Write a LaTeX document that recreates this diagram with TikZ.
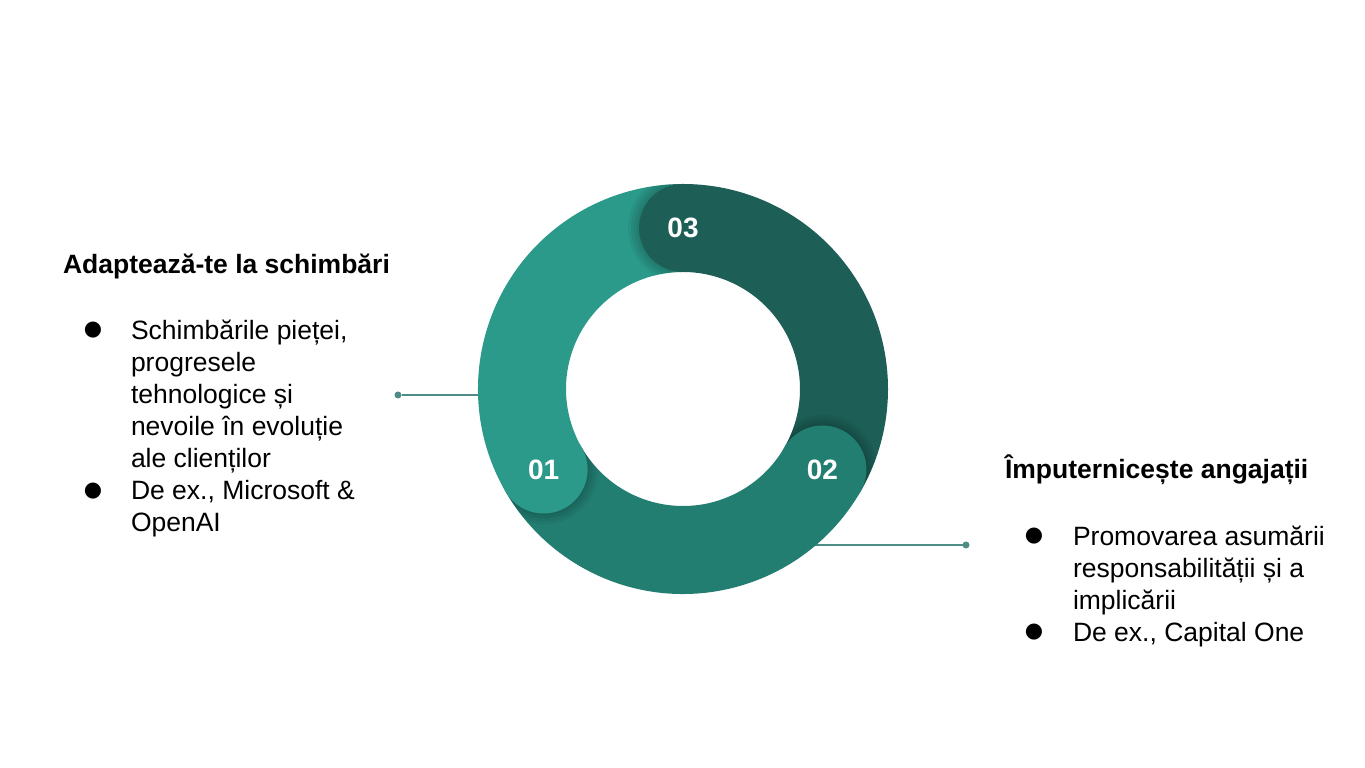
\documentclass[tikz,border=0pt]{standalone}
\usepackage{fontspec}
\setmainfont{Liberation Sans}
\newfontfamily\dotfont{DejaVu Sans}
\usetikzlibrary{positioning,calc}
\definecolor{tealA}{HTML}{2B9A8B}
\definecolor{tealB}{HTML}{237E72}
\definecolor{tealC}{HTML}{1D5F56}
\definecolor{linkc}{HTML}{4F8C86}

\begin{document}
\begin{tikzpicture}[x=1pt,y=1pt]
        \tikzstyle{every node} = [inner sep=0pt, outer sep=0pt]
        \tikzstyle{bulb} = [circle, minimum size=88pt, text=white, font=\fontsize{28}{28}\selectfont\bfseries]
        \tikzstyle{title} = [anchor=west, font=\fontsize{26.5}{32}\selectfont\bfseries]
        \tikzstyle{body} = [anchor=base west, align=left, font=\fontsize{26.5}{32}\selectfont]
        \tikzstyle{dot} = [font=\dotfont\fontsize{21}{21}\selectfont]
        \tikzstyle{pin} = [circle, fill=linkc, minimum size=7pt]
        \tikzstyle{link} = [draw=linkc, line width=1.5pt]
        \useasboundingbox (0,0) rectangle (1365,768);
        \fill[white] (0,0) rectangle (1365,768);

        \coordinate (c) at (683,379);
        \node[pin](lpin) at (398,373){};
        \node[pin](rpin) at (966,223){};
        \coordinate (lend) at (482,373);
        \coordinate (rend) at (810,223);
        \path[link] (lpin) -- (lend);
        \path[link] (rend) -- (rpin);

        % ring, one piece per step
        \foreach \h/\col in {210/tealA, -30/tealB, 90/tealC} {
            \fill[\col] ($(c)+(\h:205)$) arc[start angle=\h, end angle=\h-120, radius=205]
                -- ($(c)+(\h-120:117)$) arc[start angle=\h-120, end angle=\h, radius=117] -- cycle;
        }
        \foreach \h in {210, -30, 90} {
            \begin{scope}[even odd rule]
                \clip (c) -- ($(c)+(\h:260)$) -- ($(c)+(\h+35:260)$) -- cycle;
                \clip (c) circle (205) (c) circle (117);
                \foreach \r in {46,49,52,55}
                    \fill[black, opacity=0.05] ($(c)+(\h:161)$) circle (\r);
            \end{scope}
        }
        \node[bulb, fill=tealA] (b1) at ($(c)+(210:161)$) {01};
        \node[bulb, fill=tealB] (b2) at ($(c)+(-30:161)$) {02};
        \node[bulb, fill=tealC] (b3) at ($(c)+(90:161)$) {03};

        % left text
        \node[title](lhead) at (63,501){Adaptează-te la schimbări};
        \node[dot](ld1) at (93,438){●};
        \node[dot](ld2) at (93,277){●};
        \node[body](lt1) at (131,300.5){Schimbările pieței,\\progresele\\tehnologice și\\nevoile în evoluție\\ale clienților};
        \node[body](lt2) at (131,236.5){De ex., Microsoft \&\\OpenAI};

        % right text
        \node[title](rhead) at (1005,298){Împuternicește angajații};
        \node[dot](rd1) at (1034,232){●};
        \node[dot](rd2) at (1034,136){●};
        \node[body](rt1) at (1073,158.5){Promovarea asumării\\responsabilității și a\\implicării};
        \node[body](rt2) at (1073,126.5){De ex., Capital One};
\end{tikzpicture}
\end{document}
